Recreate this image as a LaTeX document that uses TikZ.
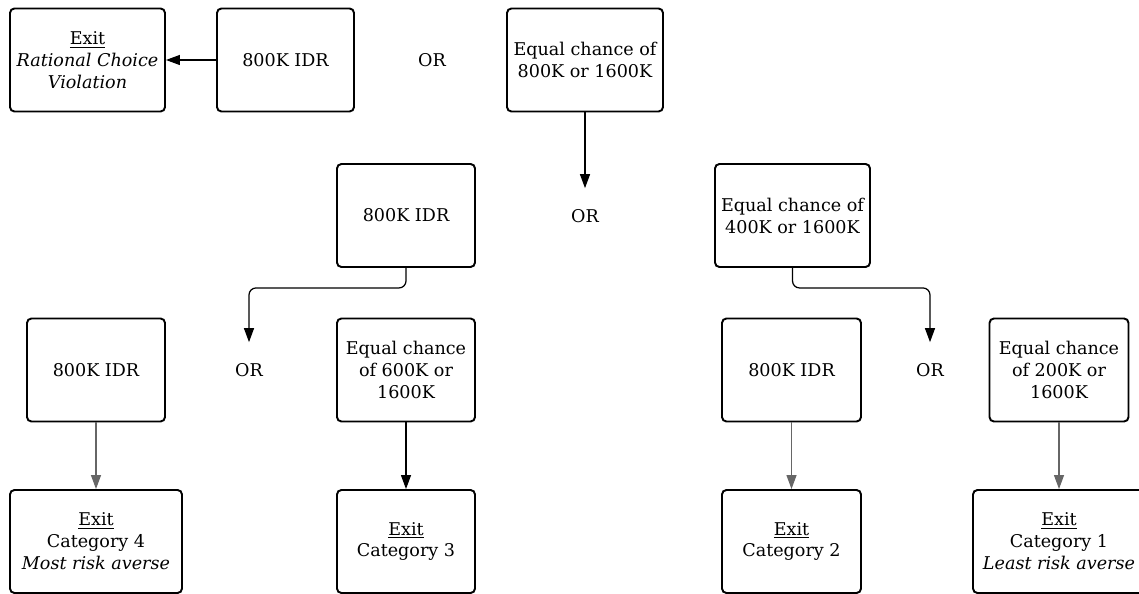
\documentclass[tikz,border=0pt]{standalone}
\usepackage{fontspec}
\setmainfont{DejaVu Serif}
\usetikzlibrary{positioning,arrows.meta}

\begin{document}
\begin{tikzpicture}[x = 0.02cm, y = -0.02cm,
  box/.style = {draw, line width = 1.1pt, rounded corners = 2.5pt, minimum height = 2.06cm, inner sep = 0pt, align = center, font = \fontsize{10}{12.5}\selectfont},
  ortext/.style = {inner sep = 0pt, minimum height = 1.1cm, font = \fontsize{10}{12.5}\selectfont},
  link/.style = {line width = 0.7pt, -{Triangle[length = 0.28cm, width = 0.2cm]}},
  greylink/.style = {link, draw = black!60}]
\useasboundingbox (0,0) rectangle (1139,594);
\node[box, minimum width = 3.1cm] (1) at (87.5,60) {\underline{Exit}\\\textit{Rational Choice}\\\textit{Violation}};
\node[box, minimum width = 2.74cm] (2) at (285.5,60) {800K IDR};
\node[ortext] (3) at (432,60) {OR};
\node[box, minimum width = 3.12cm] (4) at (585,60) {Equal chance of\\800K or 1600K};
\node[box, minimum width = 2.76cm] (5) at (406,215.5) {800K IDR};
\node[ortext] (6) at (585,216) {OR};
\node[box, minimum width = 3.1cm] (7) at (792.5,215.5) {Equal chance of\\400K or 1600K};
\node[box, minimum width = 2.76cm] (8) at (96,370) {800K IDR};
\node[ortext] (9) at (249,370) {OR};
\node[box, minimum width = 2.76cm] (10) at (406,370) {Equal chance\\of 600K or\\1600K};
\node[box, minimum width = 2.78cm] (11) at (791.5,370) {800K IDR};
\node[ortext] (12) at (930,370) {OR};
\node[box, minimum width = 2.78cm] (13) at (1059,370) {Equal chance\\of 200K or\\1600K};
\node[box, minimum width = 3.44cm] (14) at (96,541.5) {\underline{Exit}\\Category 4\\\textit{Most risk averse}};
\node[box, minimum width = 2.76cm] (15) at (406,541.5) {\underline{Exit}\\Category 3};
\node[box, minimum width = 2.78cm] (16) at (791.5,541.5) {\underline{Exit}\\Category 2};
\node[box, minimum width = 3.44cm] (17) at (1059,541.5) {\underline{Exit}\\Category 1\\\textit{Least risk averse}};
\draw[link] (2) -- (1);
\draw[link] (4) -- (6);
\draw[link, rounded corners = 4pt] (5.south) -- ++(0,20) -| (9.north);
\draw[link, rounded corners = 4pt] (7.south) -- ++(0,20) -| (12.north);
\draw[greylink] (8) -- (14);
\draw[link] (10) -- (15);
\draw[greylink] (11) -- (16);
\draw[greylink] (13) -- (17);
\end{tikzpicture}
\end{document}
